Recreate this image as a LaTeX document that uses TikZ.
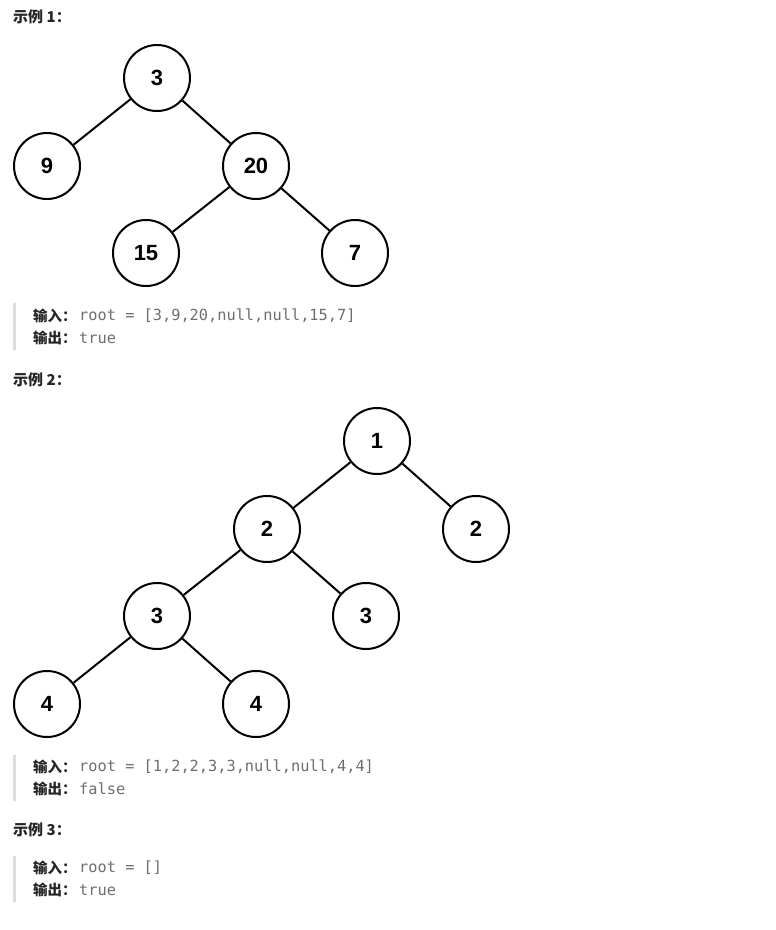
\documentclass[tikz,border=0pt]{standalone}
\usepackage{fontspec}
\setmainfont{Liberation Sans}
\newfontfamily\cjk{Noto Sans CJK SC}
\newfontfamily\monof{DejaVu Sans Mono}
\definecolor{codegray}{HTML}{6E6E6E}
\definecolor{barcol}{HTML}{DDDDDD}
\definecolor{headcol}{HTML}{262626}
\begin{document}
\begin{tikzpicture}[x=1pt,y=-1pt,
  tn/.style={circle,draw=black,line width=2pt,minimum size=66pt,inner sep=0pt,
    font=\fontsize{22}{25}\selectfont\bfseries},
  ed/.style={line width=2pt,black},
  head/.style={anchor=west,inner sep=0pt,text=headcol,font=\cjk\fontsize{15}{17}\selectfont\bfseries},
  lab/.style={anchor=west,inner sep=0pt,text=headcol,font=\cjk\fontsize{14.5}{16}\selectfont\bfseries},
  code/.style={anchor=west,inner sep=0pt,text=codegray,font=\monof\fontsize{15.3}{17}\selectfont},
  bar/.style={fill=barcol,draw=none}]
\useasboundingbox (0,0) rectangle (776,930);
% Example 1
\node[head] (h1) at (13,17) {示例 1：};
\node[tn] (a3) at (157,78) {3};
\node[tn] (a9) at (47,166) {9};
\node[tn] (a20) at (256,166) {20};
\node[tn] (a15) at (146,253) {15};
\node[tn] (a7) at (355,253) {7};
\draw[ed] (a3) -- (a9);
\draw[ed] (a3) -- (a20);
\draw[ed] (a20) -- (a15);
\draw[ed] (a20) -- (a7);
\fill[bar] (13,303) rectangle (16,350);
\node[lab] (in1) at (33,316) {输入：};
\node[code] (c1) at (79,316) {root = [3,9,20,null,null,15,7]};
\node[lab] (out1) at (33,338) {输出：};
\node[code] (o1) at (79,338) {true};
% Example 2
\node[head] (h2) at (13,380) {示例 2：};
\node[tn] (b1) at (377,441) {1};
\node[tn] (b2l) at (267,529) {2};
\node[tn] (b2r) at (476,529) {2};
\node[tn] (b3l) at (157,616) {3};
\node[tn] (b3r) at (366,616) {3};
\node[tn] (b4l) at (47,704) {4};
\node[tn] (b4r) at (256,704) {4};
\draw[ed] (b1) -- (b2l);
\draw[ed] (b1) -- (b2r);
\draw[ed] (b2l) -- (b3l);
\draw[ed] (b2l) -- (b3r);
\draw[ed] (b3l) -- (b4l);
\draw[ed] (b3l) -- (b4r);
\fill[bar] (13,755) rectangle (16,801);
\node[lab] (in2) at (33,767) {输入：};
\node[code] (c2) at (79,767) {root = [1,2,2,3,3,null,null,4,4]};
\node[lab] (out2) at (33,789) {输出：};
\node[code] (o2) at (79,789) {false};
% Example 3
\node[head] (h3) at (13,830) {示例 3：};
\fill[bar] (13,856) rectangle (16,902);
\node[lab] (in3) at (33,868) {输入：};
\node[code] (c3) at (79,868) {root = []};
\node[lab] (out3) at (33,890) {输出：};
\node[code] (o3) at (79,890) {true};
\end{tikzpicture}
\end{document}
